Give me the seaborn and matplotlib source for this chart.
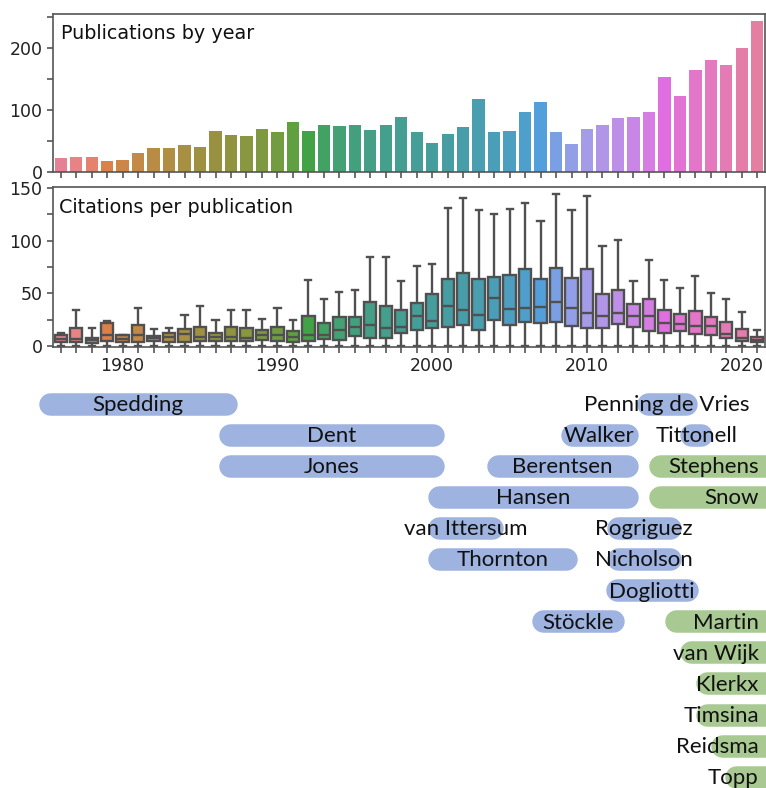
import numpy as np
import pandas as pd
import matplotlib
matplotlib.use("Agg")
import matplotlib.pyplot as plt
import seaborn as sns

# ---------------- data ----------------
years = list(range(1976, 2022))
publications = [23, 25, 25, 18, 20, 31, 39, 39, 43, 41,
                66, 60, 58, 70, 64, 81, 66, 76, 74, 76,
                68, 76, 89, 64, 47, 62, 72, 118, 64, 66,
                97, 113, 64, 45, 70, 76, 87, 89, 97, 153,
                122, 165, 181, 172, 200, 243]

cit_min = [0] * 46
cit_q1 = [4, 4, 3, 5, 4, 4, 5, 3.8, 4, 4.4,
          4.7, 4.7, 4.7, 5.7, 4.7, 4, 5, 6.3, 5.7, 9.5,
          7.9, 7.9, 12, 15, 16.7, 18, 20, 15, 25, 20,
          23, 21.5, 23, 19, 17, 16.7, 20.8, 18, 14.2, 12,
          14.5, 11, 10.7, 7.9, 4.7, 3.8]
cit_med = [7, 7, 5.7, 10, 7, 10.4, 7.6, 8.2, 11.4, 8.5,
           8.8, 8.2, 7.6, 10.7, 10.7, 8.8, 10.7, 10.7, 14.8, 18,
           19.6, 17.4, 18.3, 28, 24, 37.5, 34, 29, 45.7, 35,
           36, 37, 42, 36, 31, 28, 31, 28.4, 28, 21.5,
           21, 18.6, 18.6, 11.4, 7.6, 6]
cit_q3 = [10, 16.7, 7.9, 21.5, 10, 19.6, 9.5, 12.6, 16.4, 18.3,
          12, 18, 16.7, 15, 18.3, 14, 28.7, 22, 27.4, 27.8,
          41.6, 37.9, 33.8, 41, 49, 64, 69, 63.7, 65.6, 67,
          73, 63.4, 74.4, 65, 73, 49, 53, 40, 44.8, 33.8,
          30.3, 33.4, 27.8, 22.7, 16.4, 8.8]
cit_max = [12, 33.8, 16.7, 24, 10.7, 36, 15.8, 16.7, 29, 37.5,
           24.3, 33.8, 33.8, 25.6, 36, 24.3, 63, 44.8, 51.7, 53,
           84.5, 84.5, 62, 75.7, 78, 131.5, 141, 129, 125, 130,
           136, 119, 144.5, 129, 142.6, 95, 101, 61.5, 82, 63,
           54.6, 66, 50.5, 44.8, 32, 15.5]

decade_labels = ["1980", "1990", "2000", "2010", "2020"]

authors = ["Spedding", "Penning de Vries", "Dent", "Walker", "Tittonell",
           "Jones", "Berentsen", "Stephens", "Hansen", "Snow",
           "van Ittersum", "Rogriguez", "Thornton", "Nicholson", "Dogliotti",
           "Stöckle", "Martin", "van Wijk", "Klerkx", "Timsina",
           "Reidsma", "Topp"]
author_row = [0, 0, 1, 1, 1, 2, 2, 2, 3, 3, 4, 4, 5, 5, 6, 7, 7, 8, 9, 10, 11, 12]
author_start = [1974.6, 2013.2, 1986.2, 2008.3, 2016.0, 1986.2, 2003.5, 2014.0,
                1999.7, 2014.0, 1999.7, 2011.3, 1999.7, 2011.3, 2011.2, 2006.4,
                2015.0, 2016.0, 2017.0, 2017.0, 2018.0, 2018.9]
author_end = [1987.4, 2017.1, 2000.8, 2013.3, 2018.1, 2000.8, 2013.3, 2023.5,
              2013.3, 2023.5, 2004.6, 2016.1, 2009.4, 2016.1, 2017.2, 2012.4,
              2023.5, 2023.5, 2023.5, 2023.5, 2023.5, 2023.5]
author_active = [False, False, False, False, False, False, False, True,
                 False, True, False, False, False, False, False, False,
                 True, True, True, True, True, True]

# ---------------- figure ----------------
W, H = 766, 788
fig = plt.figure(figsize=(W / 100, H / 100), dpi=100)

def axes_px(left, top, right, bottom):
    return fig.add_axes([left / W, 1 - bottom / H, (right - left) / W, (bottom - top) / H])

ax1 = axes_px(53, 14, 765, 172)
ax2 = axes_px(53, 187, 765, 347)
ax3 = axes_px(0, 385, 766, 788)

year_str = [str(y) for y in years]
pal = sns.color_palette("husl", len(years))

# top: bar chart
sns.barplot(x=year_str, y=publications, hue=year_str, palette=pal,
            legend=False, ax=ax1, order=year_str, hue_order=year_str)

# middle: boxplots
rows = []
for y, a, b, c, d, e in zip(year_str, cit_min, cit_q1, cit_med, cit_q3, cit_max):
    for v in (a, b, c, d, e):
        rows.append((y, v))
df = pd.DataFrame(rows, columns=["year", "cit"])
sns.boxplot(data=df, x="year", y="cit", hue="year", palette=pal, legend=False,
            order=year_str, hue_order=year_str, whis=(0, 100), showfliers=False,
            linecolor="#505050", linewidth=1.7, ax=ax2)

spine_col = "#555555"
tick_fs = 12.5
for ax in (ax1, ax2):
    ax.set_xlabel("")
    ax.set_ylabel("")
    ax.set_xlim(-0.5, len(years) - 0.5)
    for s in ax.spines.values():
        s.set_color(spine_col)
        s.set_linewidth(1.2)
    ax.tick_params(axis="both", direction="out", length=4, width=1.2,
                   color=spine_col, labelsize=tick_fs, labelcolor="#222222")
    ax.set_xticks(range(len(years)))

ax1.set_xticklabels([])
ax1.set_ylim(0, 255)
ax1.set_yticks([0, 50, 100, 150, 200, 250])
ax1.set_yticklabels(["0", "", "100", "", "200", ""])

ax2.set_ylim(-1, 151)
ax2.set_yticks([0, 25, 50, 75, 100, 125, 150])
ax2.set_yticklabels(["0", "", "50", "", "100", "", "150"])
ax2.set_xticklabels([y if y in decade_labels else "" for y in year_str])

ax1.text(0.011, 0.84, "Publications by year", transform=ax1.transAxes,
         fontsize=13.8, va="baseline", ha="left", color="#111111")
ax2.text(0.008, 0.8375, "Citations per publication", transform=ax2.transAxes,
         fontsize=13.8, va="baseline", ha="left", color="#111111")

# bottom: author timeline
px_per_year = 712 / 46
x0 = 1975.5 - 53 / px_per_year
x1 = 1975.5 + (766 - 53) / px_per_year
ax3.set_xlim(x0, x1)
row_px = 31.1
ax3.set_ylim((788 - 403.5) / row_px, (385 - 403.5) / row_px)
ax3.axis("off")

bar_px = 22.5
lw_pt = bar_px * 72 / 100
r_yr = (bar_px / 2) / px_per_year
blue = "#9eb3e0"
green = "#a9c992"
name_fs = 16
for name, row, s, e, act in zip(authors, author_row, author_start, author_end, author_active):
    col = green if act else blue
    ax3.plot([s + r_yr, e - r_yr], [row, row], color=col, lw=lw_pt,
             solid_capstyle="round", zorder=1)
    if act:
        ax3.text(2021.1, row + 0.24, name, ha="right", va="baseline",
                 fontsize=name_fs, family="Lato", color="#111111", zorder=2)
    else:
        ax3.text((s + e) / 2, row + 0.24, name, ha="center", va="baseline",
                 fontsize=name_fs, family="Lato", color="#111111", zorder=2)

fig.savefig("out.png", dpi=100)
